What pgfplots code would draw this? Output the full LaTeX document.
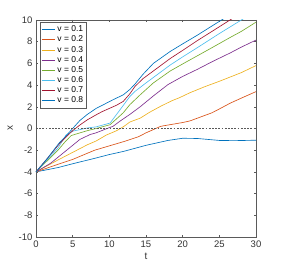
\documentclass[border=0pt]{standalone}
\usepackage{fontspec}
\setmainfont{Liberation Sans}
\usepackage{pgfplots}
\pgfplotsset{compat=1.18}
\definecolor{c1}{HTML}{0072BD}
\definecolor{c2}{HTML}{D95319}
\definecolor{c3}{HTML}{EDB120}
\definecolor{c4}{HTML}{7E2F8E}
\definecolor{c5}{HTML}{77AC30}
\definecolor{c6}{HTML}{4DBEEE}
\definecolor{c7}{HTML}{A2142F}
\definecolor{axc}{HTML}{5A5A5A}
\begin{document}
\begin{tikzpicture}
\path[use as bounding box] (-36pt,-30pt) rectangle (247pt,237pt);
\begin{axis}[
  at={(0,0)}, anchor=south west,
  width=220pt, height=217pt, scale only axis,
  xmin=0, xmax=30, ymin=-10, ymax=10,
  xtick={0,5,...,30}, ytick={-10,-8,...,10},
  tick align=inside, tick pos=both,
  major tick length=2.5pt,
  axis line style={axc, line width=0.5pt},
  every tick/.style={axc, line width=0.4pt},
  tick label style={font=\fontsize{9.5}{10}\selectfont, text=black!80},
  /pgf/number format/assume math mode=true,
  xlabel={t}, ylabel={x},
  label style={font=\fontsize{10}{11}\selectfont, text=black!80},
  xlabel style={yshift=1pt},
  ylabel style={yshift=-1pt},
  legend style={at={(0.018,0.99)}, anchor=north west, draw=axc, fill=white,
    font=\fontsize{8.5}{9}\selectfont, row sep=-1.3pt, inner sep=1.5pt},
  legend cell align=left,
  legend image code/.code={\draw[#1] plot coordinates {(0cm,0cm)(0.46cm,0cm)};},
  every axis plot/.append style={line width=0.65pt},
]
\addplot[c1] coordinates {(0,-4)(3,-3.6)(5,-3.25)(8,-2.75)(10,-2.4)(12,-2.1)(15,-1.55)(18,-1.1)(20,-0.9)(22,-0.92)(25,-1.1)(27,-1.12)(30,-1.08)};
\addlegendentry{v = 0.1}
\addplot[c2] coordinates {(0,-4)(3,-3.3)(5,-2.85)(8,-2.0)(10,-1.6)(12,-1.2)(14,-0.75)(15,-0.4)(16,-0.1)(17,0.2)(18,0.32)(20,0.55)(21,0.7)(22,0.95)(24,1.45)(25,1.8)(26.5,2.34)(28,2.8)(30,3.4)};
\addlegendentry{v = 0.2}
\addplot[c3] coordinates {(0,-4)(3,-2.9)(5,-2.2)(7,-1.5)(8.2,-1.15)(9.6,-0.6)(11,-0.2)(12,0.2)(12.8,0.6)(14.2,0.95)(15.5,1.5)(17,2.05)(18.5,2.55)(19.6,2.85)(21,3.3)(23,3.85)(25,4.35)(26.5,4.75)(28,5.15)(30,5.8)};
\addlegendentry{v = 0.3}
\addplot[c4] coordinates {(0,-4)(2,-3.2)(4,-2.1)(5,-1.55)(6,-1.0)(7.4,-0.55)(8.2,-0.4)(9.5,-0.05)(10.5,0.2)(11.5,0.7)(12.8,1.3)(14.2,2.0)(16,3.0)(18,4.05)(20,4.8)(22,5.45)(24,6.15)(26.5,6.97)(28,7.5)(30,8.15)};
\addlegendentry{v = 0.4}
\addplot[c5] coordinates {(0,-4)(1.5,-3.0)(3,-2.0)(4,-1.2)(4.8,-0.65)(6,-0.4)(7,-0.2)(8.2,0.0)(9,0.15)(10.1,0.35)(11,0.9)(11.9,1.45)(12.8,2.2)(14.2,3.1)(16,4.2)(18.3,5.3)(20,5.95)(22,6.7)(24,7.45)(26.5,8.4)(28,8.95)(30,9.8)};
\addlegendentry{v = 0.5}
\addplot[c6] coordinates {(0,-4)(1.5,-2.9)(3,-1.8)(4.1,-0.6)(5,-0.25)(6,-0.1)(7,0.05)(8.2,0.15)(9,0.3)(10.1,0.5)(11.45,1.72)(12.8,2.95)(13.5,3.42)(15,4.2)(17,5.2)(18.3,5.85)(20,6.6)(22,7.45)(25,8.75)(28,10.0)(29,10.4)};
\addlegendentry{v = 0.6}
\addplot[c7] coordinates {(0,-4)(1.5,-2.8)(3.2,-1.4)(4,-0.85)(5,-0.2)(6,0.33)(7,0.8)(8.2,1.26)(9,1.55)(10.1,1.88)(11,2.15)(11.9,2.5)(12.8,3.2)(13.5,3.88)(14.6,4.6)(16,5.3)(18.3,6.45)(20,7.2)(22,8.1)(24,8.95)(26.5,10.02)(27.5,10.45)};
\addlegendentry{v = 0.7}
\addplot[c1] coordinates {(0,-4)(1.5,-2.8)(3.2,-1.3)(4,-0.75)(5,0.0)(6,0.75)(7,1.3)(8.2,1.85)(9.5,2.3)(10.5,2.65)(11.9,3.1)(12.8,3.6)(13.5,4.1)(14.6,5.0)(16,6.0)(18.3,7.1)(20,7.8)(22,8.6)(24,9.45)(25.3,10.0)(26.5,10.5)};
\addlegendentry{v = 0.8}
\addplot[black!65, dash pattern=on 1.8pt off 1.4pt, line width=0.8pt, forget plot] coordinates {(0,0)(30,0)};
\end{axis}
\end{tikzpicture}
\end{document}
